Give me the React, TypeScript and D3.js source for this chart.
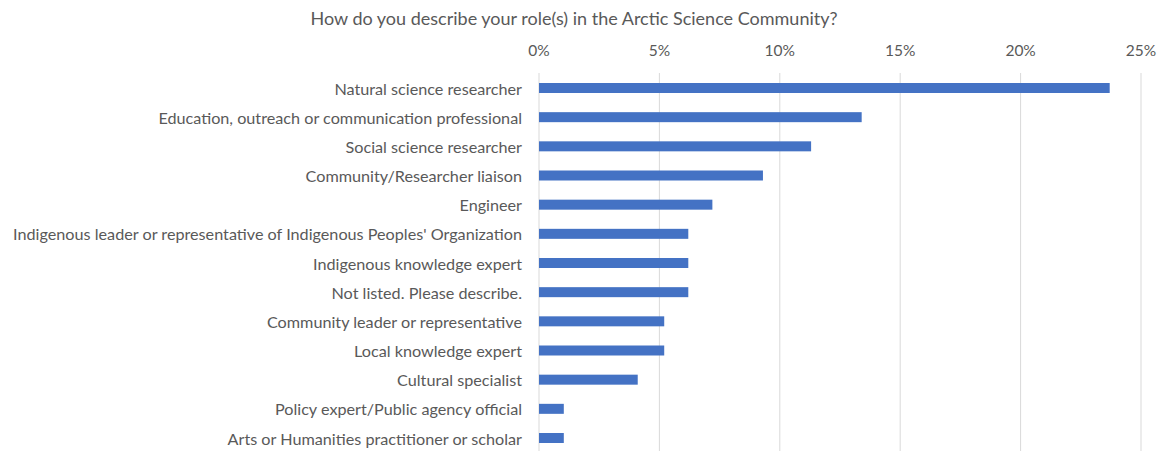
import React from "react";
import * as d3 from "d3";

const categories = [
  "Natural science researcher",
  "Education, outreach or communication professional",
  "Social science researcher",
  "Community/Researcher liaison",
  "Engineer",
  "Indigenous leader or representative of Indigenous Peoples' Organization",
  "Indigenous knowledge expert",
  "Not listed. Please describe.",
  "Community leader or representative",
  "Local knowledge expert",
  "Cultural specialist",
  "Policy expert/Public agency official",
  "Arts or Humanities practitioner or scholar",
];
const values = [0.237, 0.134, 0.113, 0.093, 0.072, 0.062, 0.062, 0.062, 0.052, 0.052, 0.041, 0.0103, 0.0103];
const ticks = [0, 0.05, 0.1, 0.15, 0.2, 0.25];
const title = "How do you describe your role(s) in the Arctic Science Community?";

export default function App() {
  const W = 1163, H = 451;
  const x = d3.scaleLinear().domain([0, 0.25]).range([539, 1141]);
  const y = d3.scalePoint<string>().domain(categories).range([88, 438]);
  const fmt = d3.format(".0%");
  const font = "Lato, 'Open Sans', sans-serif";
  const color = "#595959";
  return (
    <svg width={W} height={H} style={{ position: "absolute", left: 0, top: 0, background: "#fff" }}>
      <text x={574} y={18} textAnchor="middle" dominantBaseline="central" fontFamily={font} fontSize={18} fill={color}>{title}</text>
      {ticks.map((t) => (
        <g key={t}>
          <line x1={x(t)} x2={x(t)} y1={73} y2={451} stroke="#d9d9d9" strokeWidth={1} />
          <text x={x(t)} y={50} textAnchor="middle" dominantBaseline="central" fontFamily={font} fontSize={15.5} fill={color}>{fmt(t)}</text>
        </g>
      ))}
      {categories.map((c, i) => (
        <g key={c}>
          <rect x={x(0)} y={(y(c) as number) - 5} width={x(values[i]) - x(0)} height={10} fill="#4472c4" />
          <text x={522} y={y(c)} textAnchor="end" dominantBaseline="central" fontFamily={font} fontSize={16.2} fill={color}>{c}</text>
        </g>
      ))}
    </svg>
  );
}
